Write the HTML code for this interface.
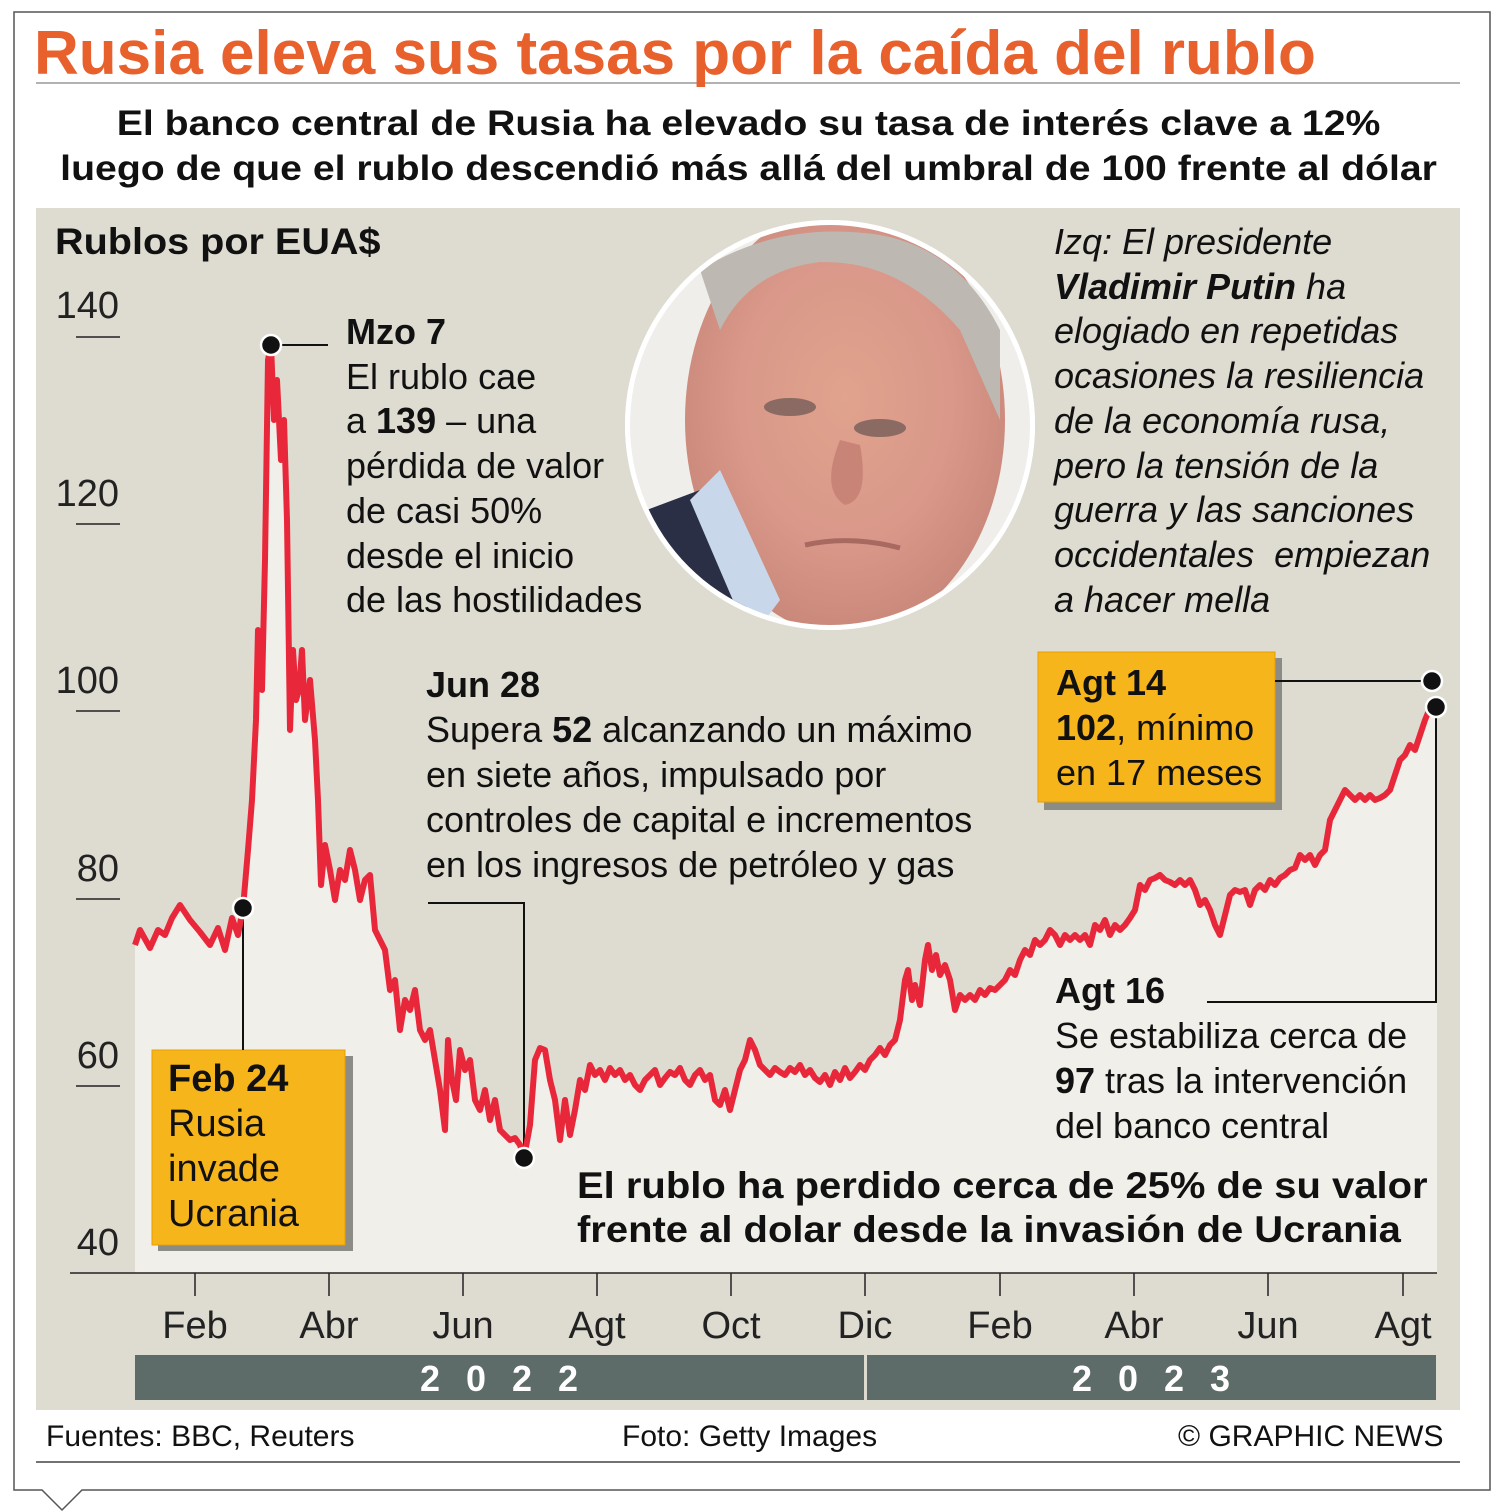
<!DOCTYPE html>
<html><head><meta charset="utf-8">
<style>
body{margin:0;background:#fff;width:1505px;height:1512px;position:relative;overflow:hidden;font-family:"Liberation Sans",sans-serif;color:#111}
.a{position:absolute;white-space:nowrap}
</style></head><body>
<svg class="a" style="left:0;top:0" width="1505" height="1512">
<defs>
<radialGradient id="face" cx="0.5" cy="0.45" r="0.55">
<stop offset="0" stop-color="#e0a38c"/><stop offset="0.6" stop-color="#d9988a"/><stop offset="1" stop-color="#c9887a"/>
</radialGradient>
<clipPath id="cc"><circle cx="830" cy="425" r="200"/></clipPath>
</defs>
<path d="M14 12 H1490 V1490 H82 L62 1510 L42 1490 H14 Z" fill="#fff" stroke="#555" stroke-width="1.5"/>
<line x1="36" y1="83" x2="1460" y2="83" stroke="#999" stroke-width="1.5"/>
<rect x="36" y="208" width="1424" height="1202" fill="#dedcd1"/>
<line x1="36" y1="1462" x2="1460" y2="1462" stroke="#444" stroke-width="1.5"/>
<polygon id="ar" fill="#f0efea" points=""/>
<g stroke="#222" stroke-width="1.5">
<line x1="76" y1="337" x2="120" y2="337"/><line x1="76" y1="524" x2="120" y2="524"/><line x1="76" y1="711" x2="120" y2="711"/><line x1="76" y1="899" x2="120" y2="899"/><line x1="76" y1="1086" x2="120" y2="1086"/>
<line x1="70" y1="1273" x2="1437" y2="1273"/>
<line x1="195" y1="1273" x2="195" y2="1296"/><line x1="329" y1="1273" x2="329" y2="1296"/><line x1="463" y1="1273" x2="463" y2="1296"/><line x1="597" y1="1273" x2="597" y2="1296"/><line x1="731" y1="1273" x2="731" y2="1296"/><line x1="865" y1="1273" x2="865" y2="1296"/><line x1="1000" y1="1273" x2="1000" y2="1296"/><line x1="1134" y1="1273" x2="1134" y2="1296"/><line x1="1268" y1="1273" x2="1268" y2="1296"/><line x1="1403" y1="1273" x2="1403" y2="1296"/>
</g>
<rect x="135" y="1355" width="729" height="45" fill="#5d6b69"/>
<rect x="867" y="1355" width="569" height="45" fill="#5d6b69"/>
<circle cx="830" cy="425" r="205" fill="#fff"/>
<g clip-path="url(#cc)">
<rect x="620" y="215" width="420" height="420" fill="#efeeeb"/>
<ellipse cx="845" cy="420" rx="160" ry="215" fill="url(#face)"/>
<path d="M700 270 Q780 220 880 235 Q960 250 1000 330 L1000 420 L960 330 Q900 260 820 262 Q750 270 720 330 Z" fill="#bdb9b2"/>
<path d="M620 520 L700 490 L760 640 L620 640 Z" fill="#2a2f45"/>
<path d="M690 500 L720 470 L780 600 L750 640 Z" fill="#c8d8ea"/>
<path d="M930 640 L1000 560 L1040 640 Z" fill="#2a2f45"/>
<ellipse cx="790" cy="407" rx="26" ry="9" fill="#8a6a62"/><ellipse cx="880" cy="428" rx="26" ry="9" fill="#8a6a62"/>
<path d="M840 440 Q820 490 845 505 Q870 500 860 445" fill="#c98478"/>
<path d="M805 545 Q850 535 900 548" stroke="#a86a60" stroke-width="5" fill="none"/>
</g>
<circle cx="830" cy="425" r="203" fill="none" stroke="#fff" stroke-width="4"/>
<rect x="158" y="1056" width="195" height="195" fill="#8c8c86"/>
<rect x="152" y="1050" width="193" height="195" fill="#f7b51c" stroke="#e8a000"/>
<rect x="1044" y="658" width="238" height="152" fill="#8c8c86"/>
<rect x="1038" y="652" width="237" height="150" fill="#f7b51c" stroke="#e8a000"/>
<g stroke="#111" stroke-width="2" fill="none">
<path d="M271 345 H328"/><path d="M243 908 V1050"/><path d="M524 1158 V903 H428"/><path d="M1275 681 H1432"/><path d="M1436 707 V1002 H1207"/>
</g>
<polyline id="ln" fill="none" stroke="#e8283a" stroke-width="6" stroke-linejoin="round" points=""/>
<g fill="#111" stroke="#fff" stroke-width="2.5">
<circle cx="271" cy="345" r="10"/><circle cx="243" cy="908" r="10"/><circle cx="524" cy="1158" r="10"/><circle cx="1432" cy="681" r="10"/><circle cx="1436" cy="707" r="10"/>
</g>
<g font-family="Liberation Sans" font-size="38" fill="#222">
<text x="119" y="318" text-anchor="end">140</text><text x="119" y="506" text-anchor="end">120</text><text x="119" y="693" text-anchor="end">100</text><text x="119" y="881" text-anchor="end">80</text><text x="119" y="1068" text-anchor="end">60</text><text x="119" y="1255" text-anchor="end">40</text>
<g text-anchor="middle"><text x="195" y="1338">Feb</text><text x="329" y="1338">Abr</text><text x="463" y="1338">Jun</text><text x="597" y="1338">Agt</text><text x="731" y="1338">Oct</text><text x="865" y="1338">Dic</text><text x="1000" y="1338">Feb</text><text x="1134" y="1338">Abr</text><text x="1268" y="1338">Jun</text><text x="1403" y="1338">Agt</text></g>
</g>
<g font-family="Liberation Sans" font-weight="bold" font-size="36" fill="#fff" text-anchor="middle" letter-spacing="26">
<text x="512" y="1391">2022</text><text x="1164" y="1391">2023</text>
</g>
</svg>
<div class="a" style="left:34px;top:18px;font-size:62px;font-weight:bold;color:#e8602c">Rusia eleva sus tasas por la caída del rublo</div>
<div class="a" style="left:0;width:1497px;top:101px;text-align:center;font-size:35px;font-weight:bold;line-height:45px;transform:scaleX(1.12);transform-origin:748px 0">El banco central de Rusia ha elevado su tasa de interés clave a 12%<br>luego de que el rublo descendió más allá del umbral de 100 frente al dólar</div>
<div class="a" style="left:55px;top:221px;font-size:37px;font-weight:bold;transform:scaleX(1.07);transform-origin:0 0">Rublos por EUA$</div>
<div class="a" style="left:346px;top:310px;font-size:36px;line-height:44.7px"><b>Mzo 7</b><br>El rublo cae<br>a <b>139</b> – una<br>pérdida de valor<br>de casi 50%<br>desde el inicio<br>de las hostilidades</div>
<div class="a" style="left:426px;top:662px;font-size:36px;line-height:45px"><b>Jun 28</b><br>Supera <b>52</b> alcanzando un máximo<br>en siete años, impulsado por<br>controles de capital e incrementos<br>en los ingresos de petróleo y gas</div>
<div class="a" style="left:1054px;top:220px;font-size:36px;line-height:44.7px;font-style:italic">Izq: El presidente<br><b>Vladimir Putin</b> ha<br>elogiado en repetidas<br>ocasiones la resiliencia<br>de la economía rusa,<br>pero la tensión de la<br>guerra y las sanciones<br>occidentales &nbsp;empiezan<br>a hacer mella</div>
<div class="a" style="left:1056px;top:660px;font-size:36px;line-height:45px"><b>Agt 14</b><br><b>102</b>, mínimo<br>en 17 meses</div>
<div class="a" style="left:168px;top:1057px;font-size:38px;line-height:45px"><b>Feb 24</b><br>Rusia<br>invade<br>Ucrania</div>
<div class="a" style="left:1055px;top:968px;font-size:36px;line-height:45px"><b>Agt 16</b><br>Se estabiliza cerca de<br><b>97</b> tras la intervención<br>del banco central</div>
<div class="a" style="left:577px;top:1164px;font-size:37px;font-weight:bold;line-height:44px;transform:scaleX(1.08);transform-origin:0 0">El rublo ha perdido cerca de 25% de su valor<br>frente al dolar desde la invasión de Ucrania</div>
<div class="a" style="left:46px;top:1420px;font-size:30px">Fuentes: BBC, Reuters</div>
<div class="a" style="left:622px;top:1420px;font-size:30px">Foto: Getty Images</div>
<div class="a" style="left:1178px;top:1420px;font-size:30px">© GRAPHIC NEWS</div>
<script>
var p="135,945 140,930 150,948 158,930 165,935 172,918 180,905 190,920 200,932 210,945 218,928 225,950 232,918 238,935 243,908 248,850 252,800 256,720 258,630 262,690 265,560 268,360 271,345 274,420 277,380 281,460 284,420 287,520 290,730 293,650 296,700 299,690 302,650 305,720 310,680 315,740 318,800 321,885 325,845 330,870 335,900 340,870 345,880 350,850 355,870 360,900 365,880 370,875 375,930 380,940 385,950 390,990 395,980 400,1030 405,1000 410,1010 415,990 420,1030 425,1040 430,1030 435,1060 440,1090 445,1130 448,1040 452,1080 456,1100 460,1050 465,1070 470,1060 475,1100 480,1110 485,1090 490,1120 495,1100 500,1130 505,1135 510,1140 515,1138 520,1145 524,1158 530,1125 535,1060 540,1048 545,1050 550,1080 555,1100 560,1140 565,1100 570,1135 575,1110 580,1080 585,1090 590,1065 595,1075 600,1070 605,1080 610,1068 615,1075 620,1070 625,1080 630,1075 635,1085 640,1090 645,1080 650,1075 655,1070 660,1085 665,1078 670,1072 675,1075 680,1068 685,1080 690,1085 695,1075 700,1070 705,1080 710,1075 715,1100 720,1105 725,1090 730,1110 735,1090 740,1070 745,1060 750,1040 755,1050 760,1065 765,1070 770,1075 775,1068 780,1072 785,1075 790,1068 795,1072 800,1065 805,1075 810,1070 815,1078 820,1082 825,1075 830,1085 835,1072 840,1080 845,1068 850,1078 855,1072 860,1065 865,1070 870,1060 875,1055 880,1048 885,1055 890,1045 895,1040 900,1020 905,980 908,970 912,1000 915,985 920,1005 925,960 928,945 932,970 936,955 940,975 945,965 950,980 955,1010 960,995 965,1000 970,995 975,1000 980,990 985,995 990,988 995,990 1000,985 1005,980 1010,970 1015,975 1020,960 1025,950 1030,955 1035,940 1040,945 1045,940 1050,930 1055,935 1060,945 1065,935 1070,940 1075,935 1080,940 1085,935 1090,945 1095,925 1100,930 1105,920 1110,935 1115,925 1120,930 1125,925 1130,918 1135,910 1140,885 1145,890 1150,880 1155,878 1160,875 1165,880 1170,882 1175,885 1180,880 1185,885 1190,880 1195,890 1200,905 1205,900 1210,910 1215,925 1220,935 1225,915 1230,895 1235,890 1240,892 1245,890 1250,905 1255,890 1260,885 1265,890 1270,880 1275,885 1280,878 1285,875 1290,870 1295,868 1300,855 1305,860 1310,855 1315,865 1320,855 1325,850 1330,820 1335,810 1340,800 1345,790 1350,795 1355,800 1360,795 1365,800 1370,795 1375,800 1380,798 1385,795 1390,790 1395,775 1400,760 1405,755 1410,745 1415,750 1420,735 1425,720 1430,708";
document.getElementById('ln').setAttribute('points',p);
document.getElementById('ar').setAttribute('points',p+" 1437,708 1437,1273 135,1273");
</script>
</body></html>
